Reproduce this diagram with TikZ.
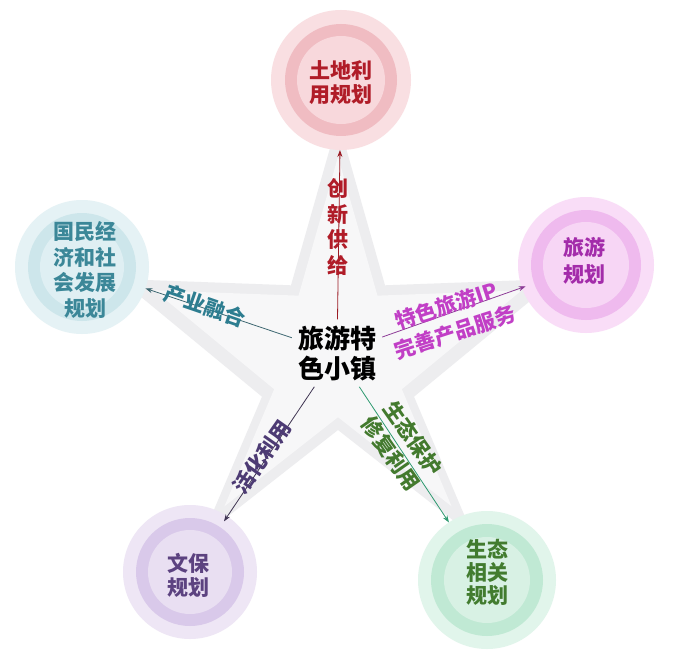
\documentclass[tikz,border=0pt]{standalone}
\usepackage{fontspec}
\newfontfamily\cjk{Noto Sans CJK SC}
\usetikzlibrary{arrows.meta}
\definecolor{starA}{HTML}{EDEDEF}
\definecolor{starB}{HTML}{F7F7F8}
\definecolor{redO}{HTML}{F9DFE2}\definecolor{redR}{HTML}{F0BCC2}\definecolor{redI}{HTML}{F8D8DC}\definecolor{redT}{HTML}{B01C28}\definecolor{redA}{HTML}{9B1B24}
\definecolor{bluO}{HTML}{E5F2F5}\definecolor{bluR}{HTML}{CDE6EB}\definecolor{bluI}{HTML}{DFEFF3}\definecolor{bluT}{HTML}{3B8798}\definecolor{bluA}{HTML}{3E6872}\definecolor{bluL}{HTML}{2D7D90}
\definecolor{pinO}{HTML}{F9DDF7}\definecolor{pinR}{HTML}{EFBAEE}\definecolor{pinI}{HTML}{F7D6F5}\definecolor{pinT}{HTML}{A32CAA}\definecolor{pinA}{HTML}{8D3C97}\definecolor{pinL}{HTML}{C13FC6}
\definecolor{lavO}{HTML}{EEE6F5}\definecolor{lavR}{HTML}{D9C9EA}\definecolor{lavI}{HTML}{E9DFF2}\definecolor{lavT}{HTML}{5C4280}\definecolor{lavA}{HTML}{3F3552}\definecolor{lavL}{HTML}{4D3B74}
\definecolor{grnO}{HTML}{E1F5EB}\definecolor{grnR}{HTML}{C0E9D4}\definecolor{grnI}{HTML}{D8F1E4}\definecolor{grnT}{HTML}{427C2F}\definecolor{grnA}{HTML}{2E9A70}\definecolor{grnL}{HTML}{437A2E}
\begin{document}
\begin{tikzpicture}[x=1pt,y=-1pt,
  bubble/.style={circle, minimum size=#1, inner sep=0pt, outer sep=0pt},
  ctext/.style={align=center, inner sep=0pt, font=\cjk\bfseries\fontsize{21}{24}\selectfont},
  lbl/.style={align=center, inner sep=0pt, font=\cjk\bfseries\fontsize{21}{27}\selectfont},
  conn/.style={line width=0.8pt, -{Stealth[length=7pt,width=5pt]}}]
\useasboundingbox[fill=white] (0,0) rectangle (690,655);
% star
\fill[starA] (338,120) -- (385,285.3) -- (556.7,279) -- (414,396.7) -- (473.2,536.1) -- (338,430) -- (202.8,536.1) -- (262,396.7) -- (119.3,279) -- (291,285.3) -- cycle;
\begin{scope}[scale around={0.84:(338,350)}]
\fill[starB] (338,120) -- (385,285.3) -- (556.7,279) -- (414,396.7) -- (473.2,536.1) -- (338,430) -- (202.8,536.1) -- (262,396.7) -- (119.3,279) -- (291,285.3) -- cycle;
\end{scope}
% circles
\node[bubble=140pt, fill=redO] (top) at (341,80) {};
\fill[redR] (top) circle (56pt); \fill[redI] (top) circle (44pt);
\node[bubble=134pt, fill=bluO] (lft) at (82,267) {};
\fill[bluR] (lft) circle (54pt); \fill[bluI] (lft) circle (42pt);
\node[bubble=136pt, fill=pinO] (rgt) at (586,265) {};
\fill[pinR] (rgt) circle (55pt); \fill[pinI] (rgt) circle (43pt);
\node[bubble=134pt, fill=lavO] (bl) at (190,572) {};
\fill[lavR] (bl) circle (54pt); \fill[lavI] (bl) circle (42pt);
\node[bubble=138pt, fill=grnO] (br) at (487,580) {};
\fill[grnR] (br) circle (56pt); \fill[grnI] (br) circle (43pt);
% centre
\node[align=center, inner sep=6pt, font=\cjk\bfseries\fontsize{26}{30}\selectfont] (c) at (337,353) {旅游特\\色小镇};
% connectors
\draw[conn, redA] (c) -- (top);
\draw[conn, bluA] (c) -- (lft);
\draw[conn, pinA, shorten >=-4pt] (c) -- (rgt);
\draw[conn, lavA, shorten >=-6pt] (c) -- (bl);
\draw[conn, grnA] (c) -- (br);
% circle texts
\node[ctext, text=redT] (tt) at (341,83) {土地利\\用规划};
\node[ctext, text=bluT, font=\cjk\bfseries\fontsize{21}{25.5}\selectfont] (lt) at (85,270) {国民经\\济和社\\会发展\\规划};
\node[ctext, text=pinT, font=\cjk\bfseries\fontsize{21}{27}\selectfont] (rt) at (584,261) {旅游\\规划};
\node[ctext, text=lavT] (blt) at (188,575) {文保\\规划};
\node[ctext, text=grnT, font=\cjk\bfseries\fontsize{21}{23}\selectfont] (brt) at (487,572) {生态\\相关\\规划};
% labels
\node[lbl, text=redT, font=\cjk\bfseries\fontsize{21}{25.7}\selectfont] (l1) at (338,227) {创\\新\\供\\给};
\node[lbl, text=pinL, rotate=18, font=\cjk\bfseries\fontsize{21}{28}\selectfont] (l2) at (451,319) {特色旅游IP\\完善产品服务};
\node[lbl, text=bluL, rotate=-19] (l3) at (205,306) {产业融合};
\node[lbl, text=lavL, rotate=55] (l4) at (262,457) {活化利用};
\node[lbl, text=grnL, rotate=-55] (l5) at (402,446) {生态保护\\修复利用};
\end{tikzpicture}
\end{document}
